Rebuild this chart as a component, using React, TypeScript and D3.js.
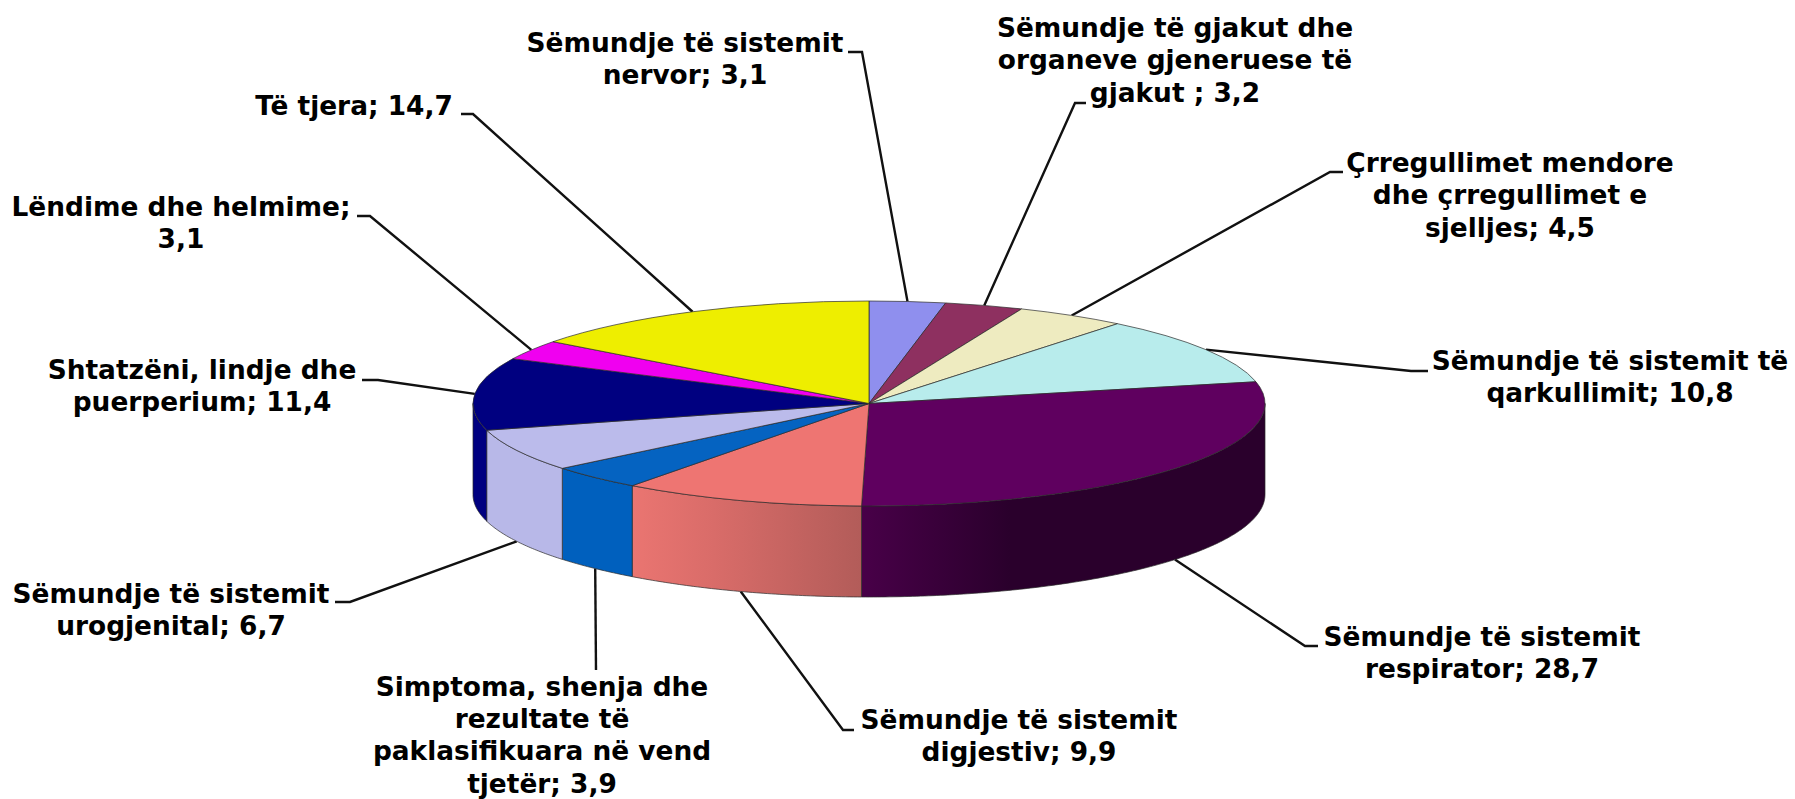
import React from 'react';
import * as d3 from 'd3';

const WIDTH = 1795;
const HEIGHT = 799;

const values = [3.1, 3.2, 4.5, 10.8, 28.7, 9.9, 3.9, 6.7, 11.4, 3.1, 14.7];

const labelLines = [
  ['Sëmundje të sistemit', 'nervor; 3,1'],
  ['Sëmundje të gjakut dhe', 'organeve gjeneruese të', 'gjakut ; 3,2'],
  ['Çrregullimet mendore', 'dhe çrregullimet e', 'sjelljes; 4,5'],
  ['Sëmundje të sistemit të', 'qarkullimit; 10,8'],
  ['Sëmundje të sistemit', 'respirator; 28,7'],
  ['Sëmundje të sistemit', 'digjestiv; 9,9'],
  ['Simptoma, shenja dhe', 'rezultate të', 'paklasifikuara në vend', 'tjetër; 3,9'],
  ['Sëmundje të sistemit', 'urogjenital; 6,7'],
  ['Shtatzëni, lindje dhe', 'puerperium; 11,4'],
  ['Lëndime dhe helmime;', '3,1'],
  ['Të tjera; 14,7'],
];

const topColors = ['#8F8FEE', '#8E3060', '#EEEBC0', '#B8ECEC', '#5F005F', '#EE7572', '#0563C1', '#BBBBEB', '#000080', '#F000F0', '#EEEE00'];
const sideColors = ['#8F8FEE', '#8E3060', '#EEEBC0', '#B8ECEC', 'url(#sidePurple)', 'url(#sideSalmon)', '#0060BE', '#B8B8E8', '#000080', '#F000F0', '#EEEE00'];

// label anchor: centre x and first baseline
const labelX = [685, 1175, 1510, 1610, 1482, 1019, 542, 171, 202, 181, 354];
const labelY = [52, 37, 172, 370, 646, 729, 695.5, 603, 379, 216, 115];

// leader line bends, from the pie out to the text
const leaderBends: number[][][] = [
  [[862, 52], [848, 52]],
  [[1075, 103], [1086, 103]],
  [[1330, 172], [1343, 172]],
  [[1411, 371], [1428, 371]],
  [[1305, 646], [1318, 646]],
  [[843, 730], [854, 730]],
  [[596, 670]],
  [[350, 602], [335, 602]],
  [[378, 380], [362, 380]],
  [[370, 216], [357, 216]],
  [[473, 114], [461, 114]],
];

const CX = 869;
const CY = 403.5;
const RX = 396;
const RY = 102.5;
const DEPTH = 91;
const LINE_HEIGHT = 32.4;

const pointAt = (t: number, dy = 0): [number, number] => [
  CX + RX * Math.sin(t),
  CY - RY * Math.cos(t) + dy,
];

export default function App() {
  const arcs = d3.pie<number>().sort(null)(values);
  const arcGen = d3.arc<d3.PieArcDatum<number>>().innerRadius(0).outerRadius(RX);
  const lineGen = d3.line();

  // front wall of the disc, only the part facing the viewer
  const sidePath = (a0: number, a1: number) => {
    const from = Math.max(a0, Math.PI / 2);
    const to = Math.min(a1, Math.PI * 1.5);
    if (to <= from) return null;
    const ts = [...d3.range(from, to, 0.01), to];
    const front = ts.map((t) => pointAt(t));
    const back = ts.slice().reverse().map((t) => pointAt(t, DEPTH));
    return lineGen([...front, ...back]) + 'Z';
  };

  const isFront = (t: number) => Math.cos(t) < 0;

  return (
    <svg
      width={WIDTH}
      height={HEIGHT}
      viewBox={`0 0 ${WIDTH} ${HEIGHT}`}
      style={{ position: 'absolute', left: 0, top: 0, background: '#fff' }}
    >
      <defs>
        <linearGradient id="sideSalmon" gradientUnits="userSpaceOnUse" x1={633} x2={863} y1={0} y2={0}>
          <stop offset="0" stopColor="#EA7571" />
          <stop offset="0.35" stopColor="#D96C69" />
          <stop offset="1" stopColor="#B25C59" />
        </linearGradient>
        <linearGradient id="sidePurple" gradientUnits="userSpaceOnUse" x1={863} x2={1010} y1={0} y2={0}>
          <stop offset="0" stopColor="#480048" />
          <stop offset="1" stopColor="#2A002C" />
        </linearGradient>
      </defs>

      {/* leader lines */}
      <g fill="none" stroke="#111" strokeWidth={2.4}>
        {arcs.map((a, i) => {
          const mid = (a.startAngle + a.endAngle) / 2;
          const start = pointAt(mid, isFront(mid) ? DEPTH : 0);
          return <path key={i} d={lineGen([start, ...(leaderBends[i] as [number, number][])]) ?? ''} />;
        })}
      </g>

      {/* wall */}
      <g stroke="#2a2a2a" strokeWidth={0.7}>
        {arcs.map((a, i) => {
          const d = sidePath(a.startAngle, a.endAngle);
          return d ? <path key={i} d={d} fill={sideColors[i]} /> : null;
        })}
      </g>

      {/* top face */}
      <g transform={`translate(${CX},${CY}) scale(1,${RY / RX})`}>
        {arcs.map((a, i) => (
          <path
            key={i}
            d={arcGen(a) ?? ''}
            fill={topColors[i]}
            stroke="#2a2a2a"
            strokeWidth={0.7}
            vectorEffect="non-scaling-stroke"
          />
        ))}
      </g>

      {/* labels */}
      <g fontFamily="'DejaVu Sans', Verdana, sans-serif" fontWeight="bold" fontSize={26.4} fill="#000" textAnchor="middle">
        {labelLines.map((lines, i) => (
          <text key={i} x={labelX[i]} y={labelY[i]}>
            {lines.map((line, j) => (
              <tspan key={j} x={labelX[i]} dy={j === 0 ? 0 : LINE_HEIGHT}>
                {line}
              </tspan>
            ))}
          </text>
        ))}
      </g>
    </svg>
  );
}
